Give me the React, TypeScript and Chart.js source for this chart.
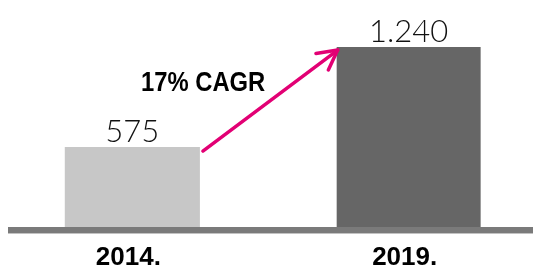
import React, { useEffect, useRef } from 'react';
import { Chart, registerables } from 'chart.js';

Chart.register(...registerables);

// ---- data ----
const CATEGORIES = ['2014.', '2019.'];
const VALUES = [575, 1240];
const CAGR_LABEL = '17% CAGR';

// ---- styles ----
const BAR_COLORS = ['#c7c7c7', '#666666'];
const BAR_WIDTH_RATIOS = [0.489, 0.521];
const MAGENTA = '#e20074';
const AXIS_COLOR = '#7a7a7a';

const formatValue = (v: number) => String(v).replace(/\B(?=(\d{3})+(?!\d))/g, '.');

export default function App() {
  const ref = useRef<HTMLCanvasElement>(null);

  useEffect(() => {
    const canvas = ref.current;
    if (!canvas) return;

    const annotations = {
      id: 'annotations',
      afterDatasetsDraw(chart: any) {
        const ctx = chart.ctx as CanvasRenderingContext2D;
        const area = chart.chartArea;
        const base = chart.scales.y.getPixelForValue(0);
        ctx.save();
        // baseline (drawn over the bar bottoms)
        ctx.fillStyle = AXIS_COLOR;
        ctx.fillRect(area.left, base - 6.5, chart.width - area.left, 6);
        ctx.fillStyle = '#c2c2c2';
        ctx.fillRect(area.left, base - 0.5, chart.width - area.left, 1);

        const bars = VALUES.map((_, i) => chart.getDatasetMeta(i).data[0]);

        // value labels
        ctx.fillStyle = '#111111';
        ctx.font = '300 31px Lato, Roboto, "Open Sans", sans-serif';
        ctx.textAlign = 'center';
        ctx.textBaseline = 'alphabetic';
        bars.forEach((b: any, i: number) => {
          ctx.fillText(formatValue(VALUES[i]), b.x, b.y - 5);
        });

        // arrow
        const b1: any = bars[0];
        const b2: any = bars[1];
        const sx = b1.x + b1.width / 2 + 3;
        const sy = b1.y + 4;
        const ex = b2.x - b2.width / 2 + 1;
        const ey = b2.y + 3;
        ctx.strokeStyle = MAGENTA;
        ctx.lineWidth = 3.5;
        ctx.lineCap = 'round';
        ctx.lineJoin = 'round';
        ctx.beginPath();
        ctx.moveTo(sx, sy);
        ctx.lineTo(ex, ey);
        ctx.stroke();
        const ang = Math.atan2(sy - ey, sx - ex);
        const len = 22;
        const spread = (28 * Math.PI) / 180;
        ctx.beginPath();
        ctx.moveTo(ex + len * Math.cos(ang + spread), ey + len * Math.sin(ang + spread));
        ctx.lineTo(ex, ey);
        ctx.lineTo(ex + len * Math.cos(ang - spread), ey + len * Math.sin(ang - spread));
        ctx.stroke();

        // CAGR label (horizontally condensed bold)
        const mx = (sx + ex) / 2;
        const my = (sy + ey) / 2;
        ctx.fillStyle = '#000000';
        ctx.font = 'bold 28px "Liberation Sans", Arial, sans-serif';
        ctx.textAlign = 'right';
        ctx.textBaseline = 'alphabetic';
        ctx.translate(mx - 5, my - 10);
        ctx.scale(0.85, 1);
        ctx.fillText(CAGR_LABEL, 0, 0);
        ctx.restore();
      },
    };

    const chart = new Chart(canvas, {
      type: 'bar',
      data: {
        datasets: VALUES.map((v, i) => ({
          label: CATEGORIES[i],
          data: [{ x: i, y: v }],
          backgroundColor: BAR_COLORS[i],
          borderWidth: 0,
          barPercentage: BAR_WIDTH_RATIOS[i],
          categoryPercentage: 1,
          grouped: false,
        })) as any,
      },
      options: {
        animation: false,
        responsive: true,
        maintainAspectRatio: false,
        layout: { padding: { left: 8, right: 0, top: 8, bottom: -12.5 } },
        plugins: {
          legend: { display: false },
          tooltip: { enabled: false },
        },
        scales: {
          x: {
            type: 'linear',
            min: -0.45,
            max: 1.45,
            offset: false,
            grid: { display: false, drawTicks: false },
            border: { display: false },
            afterBuildTicks: (axis: any) => {
              axis.ticks = CATEGORIES.map((_, i) => ({ value: i }));
            },
            ticks: {
              autoSkip: false,
              maxRotation: 0,
              padding: 12.5,
              labelOffset: -4,
              color: '#000000',
              font: {
                family: '"Liberation Sans", Arial, sans-serif',
                size: 26,
                weight: 'bold',
                lineHeight: 24 / 26,
              },
              callback: (v: any) => CATEGORIES[v as number] ?? '',
            },
          },
          y: { display: false, min: 0, max: 1500 },
        },
      },
      plugins: [annotations],
    } as any);

    return () => chart.destroy();
  }, []);

  return (
    <div style={{ position: 'fixed', left: 0, top: 0, width: 533, height: 270 }}>
      <canvas ref={ref} />
    </div>
  );
}
